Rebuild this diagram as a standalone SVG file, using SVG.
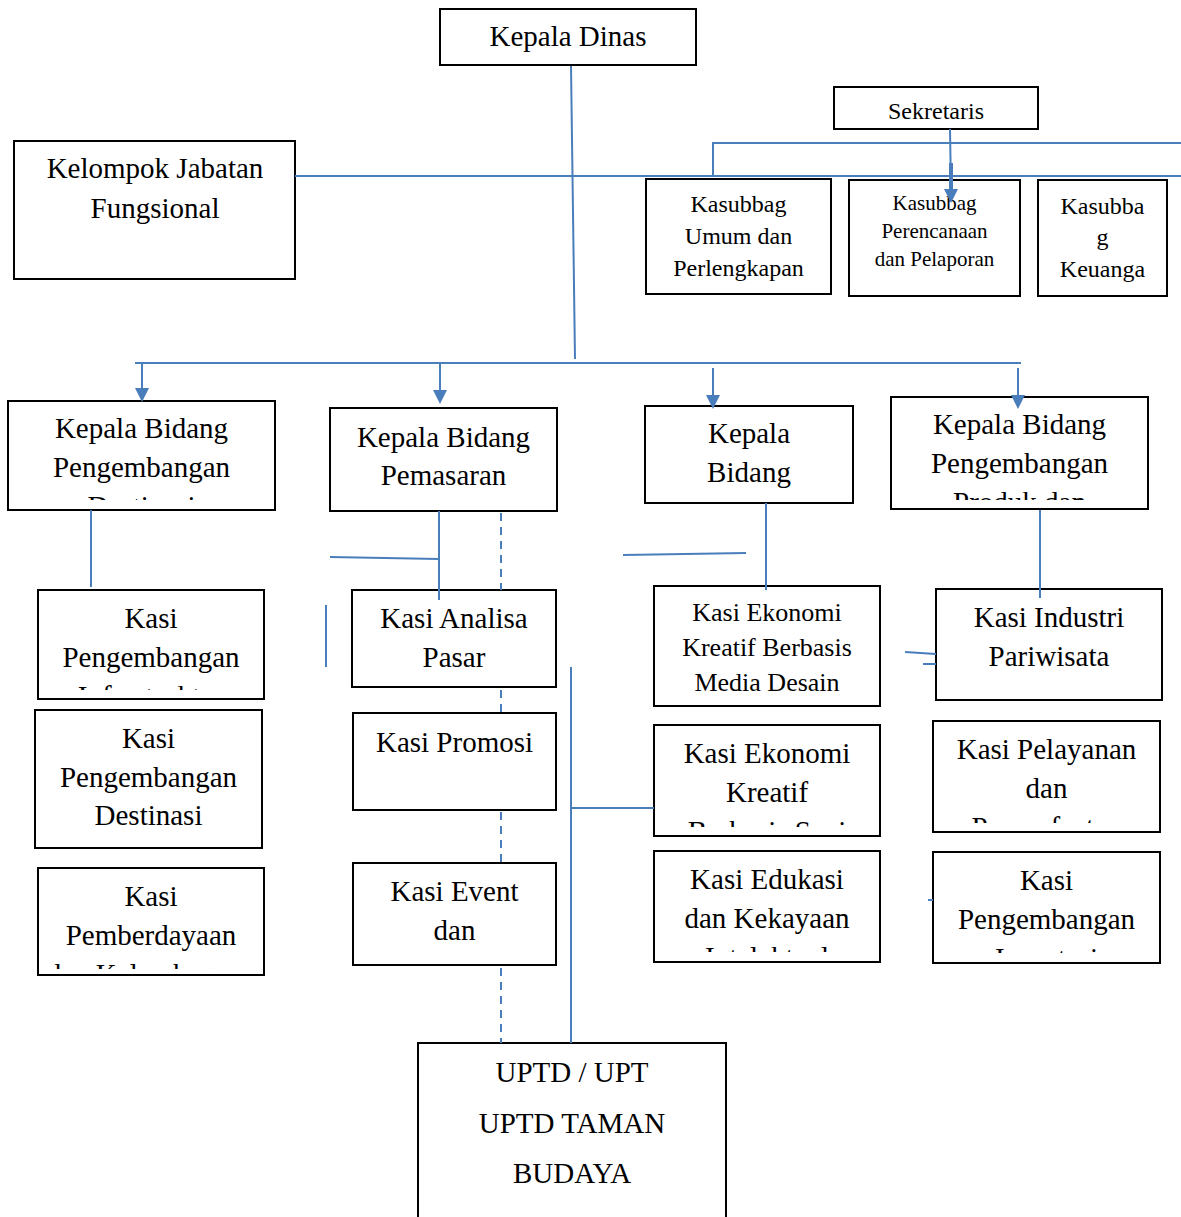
<svg xmlns="http://www.w3.org/2000/svg" width="1181" height="1217" viewBox="0 0 1181 1217">
<style>
.box{fill:#fff;stroke:#000;stroke-width:2}
.t{font-family:'Liberation Serif',serif;font-size:29px;fill:#000;text-anchor:middle}
.s24{font-size:24px}
.s21{font-size:21px}
.s26{font-size:26px}
.c{stroke:#4a7ebb;stroke-width:2;fill:none}
.d{stroke:#4a7ebb;stroke-width:2;fill:none;stroke-dasharray:8 6}
.ah{fill:#4a7ebb}
</style>
<defs>
<clipPath id="cp1"><rect x="10" y="403" width="263" height="97"/></clipPath>
<clipPath id="cp2"><rect x="893" y="399" width="253" height="101"/></clipPath>
<clipPath id="cp3"><rect x="40" y="592" width="222" height="98"/></clipPath>
<clipPath id="cp4"><rect x="40" y="870" width="222" height="99"/></clipPath>
<clipPath id="cp5"><rect x="656" y="727" width="222" height="100"/></clipPath>
<clipPath id="cp6"><rect x="656" y="853" width="222" height="99"/></clipPath>
<clipPath id="cp7"><rect x="935" y="723" width="223" height="100"/></clipPath>
<clipPath id="cp8"><rect x="935" y="854" width="223" height="99"/></clipPath>
</defs>

<g id="kepala-dinas">
<rect class="box" x="440" y="9" width="256" height="56"/>
<text class="t" x="568" y="46">Kepala Dinas</text>
</g>

<g id="sekretaris">
<rect class="box" x="834" y="87" width="204" height="42"/>
<text class="t s24" x="936" y="119">Sekretaris</text>
</g>

<g id="kelompok-jabatan-fungsional">
<rect class="box" x="14" y="141" width="281" height="138"/>
<text class="t" x="155" y="178">Kelompok Jabatan</text>
<text class="t" x="155" y="218">Fungsional</text>
</g>

<g id="kasubbag-umum">
<rect class="box" x="646" y="179" width="185" height="115"/>
<text class="t s24" x="738.5" y="212">Kasubbag</text>
<text class="t s24" x="738.5" y="244">Umum dan</text>
<text class="t s24" x="738.5" y="276">Perlengkapan</text>
</g>

<g id="kasubbag-perencanaan">
<rect class="box" x="849" y="180" width="171" height="116"/>
<text class="t s21" x="934.5" y="210">Kasubbag</text>
<text class="t s21" x="934.5" y="238">Perencanaan</text>
<text class="t s21" x="934.5" y="266">dan Pelaporan</text>
</g>

<g id="kasubbag-keuangan">
<rect class="box" x="1038" y="180" width="129" height="116"/>
<text class="t s24" x="1102.5" y="214">Kasubba</text>
<text class="t s24" x="1102.5" y="245">g</text>
<text class="t s24" x="1102.5" y="277">Keuanga</text>
</g>

<g id="kabid-destinasi">
<rect class="box" x="8" y="401" width="267" height="109"/>
<g clip-path="url(#cp1)">
<text class="t" x="141.5" y="438">Kepala Bidang</text>
<text class="t" x="141.5" y="477">Pengembangan</text>
<text class="t" x="141.5" y="516">Destinasi</text>
</g>
</g>

<g id="kabid-pemasaran">
<rect class="box" x="330" y="408" width="227" height="103"/>
<text class="t" x="443.5" y="447">Kepala Bidang</text>
<text class="t" x="443.5" y="485">Pemasaran</text>
</g>

<g id="kabid-ekraf">
<rect class="box" x="645" y="406" width="208" height="97"/>
<text class="t" x="749" y="443">Kepala</text>
<text class="t" x="749" y="482">Bidang</text>
</g>

<g id="kabid-produk">
<rect class="box" x="891" y="397" width="257" height="112"/>
<g clip-path="url(#cp2)">
<text class="t" x="1019.5" y="434">Kepala Bidang</text>
<text class="t" x="1019.5" y="473">Pengembangan</text>
<text class="t" x="1019.5" y="512">Produk dan</text>
</g>
</g>

<g id="kasi-infrastruktur">
<rect class="box" x="38" y="590" width="226" height="109"/>
<g clip-path="url(#cp3)">
<text class="t" x="151" y="628">Kasi</text>
<text class="t" x="151" y="667">Pengembangan</text>
<text class="t" x="151" y="706">Infrastruktur</text>
</g>
</g>

<g id="kasi-destinasi">
<rect class="box" x="35" y="710" width="227" height="138"/>
<text class="t" x="148.5" y="748">Kasi</text>
<text class="t" x="148.5" y="787">Pengembangan</text>
<text class="t" x="148.5" y="825">Destinasi</text>
</g>

<g id="kasi-pemberdayaan">
<rect class="box" x="38" y="868" width="226" height="107"/>
<g clip-path="url(#cp4)">
<text class="t" x="151" y="906">Kasi</text>
<text class="t" x="151" y="945">Pemberdayaan</text>
<text class="t" x="151" y="984">dan Kelembagaan</text>
</g>
</g>

<g id="kasi-analisa-pasar">
<rect class="box" x="352" y="590" width="204" height="97"/>
<text class="t" x="454" y="628">Kasi Analisa</text>
<text class="t" x="454" y="667">Pasar</text>
</g>

<g id="kasi-promosi">
<rect class="box" x="353" y="713" width="203" height="97"/>
<text class="t" x="454.5" y="752">Kasi Promosi</text>
</g>

<g id="kasi-event">
<rect class="box" x="353" y="863" width="203" height="102"/>
<text class="t" x="454.5" y="901">Kasi Event</text>
<text class="t" x="454.5" y="940">dan</text>
</g>

<g id="kasi-media-desain">
<rect class="box" x="654" y="586" width="226" height="120"/>
<text class="t s26" x="767" y="621">Kasi Ekonomi</text>
<text class="t s26" x="767" y="656">Kreatif Berbasis</text>
<text class="t s26" x="767" y="691">Media Desain</text>
</g>

<g id="kasi-seni">
<rect class="box" x="654" y="725" width="226" height="111"/>
<g clip-path="url(#cp5)">
<text class="t" x="767" y="763">Kasi Ekonomi</text>
<text class="t" x="767" y="802">Kreatif</text>
<text class="t" x="767" y="841">Berbasis Seni</text>
</g>
</g>

<g id="kasi-edukasi">
<rect class="box" x="654" y="851" width="226" height="111"/>
<g clip-path="url(#cp6)">
<text class="t" x="767" y="889">Kasi Edukasi</text>
<text class="t" x="767" y="928">dan Kekayaan</text>
<text class="t" x="767" y="967">Intelektual</text>
</g>
</g>

<g id="kasi-industri">
<rect class="box" x="936" y="589" width="226" height="111"/>
<text class="t" x="1049" y="627">Kasi Industri</text>
<text class="t" x="1049" y="666">Pariwisata</text>
</g>

<g id="kasi-pelayanan">
<rect class="box" x="933" y="721" width="227" height="111"/>
<g clip-path="url(#cp7)">
<text class="t" x="1046.5" y="759">Kasi Pelayanan</text>
<text class="t" x="1046.5" y="798">dan</text>
<text class="t" x="1046.5" y="837">Pemanfaatan</text>
</g>
</g>

<g id="kasi-investasi">
<rect class="box" x="933" y="852" width="227" height="111"/>
<g clip-path="url(#cp8)">
<text class="t" x="1046.5" y="890">Kasi</text>
<text class="t" x="1046.5" y="929">Pengembangan</text>
<text class="t" x="1046.5" y="968">Investasi</text>
</g>
</g>

<g id="uptd">
<rect class="box" x="418" y="1043" width="308" height="180"/>
<text class="t" x="572" y="1082">UPTD / UPT</text>
<text class="t" x="572" y="1133">UPTD TAMAN</text>
<text class="t" x="572" y="1183">BUDAYA</text>
</g>

<g id="connectors">
<path class="c" d="M571,66 L575,359"/>
<path class="c" d="M295,176 L1181,176"/>
<path class="c" d="M713,176 L713,143 L1181,143"/>
<path class="c" d="M950,129 L951,190"/>
<path d="M951,163 L951,190" stroke="#4a7ebb" stroke-width="4"/>
<polygon class="ah" points="944,189 958,189 951,203"/>
<path class="c" d="M135,363 L1021,363"/>
<path class="c" d="M142,363 L142,389"/>
<polygon class="ah" points="135,388 149,388 142,402"/>
<path class="c" d="M440,363 L440,391"/>
<polygon class="ah" points="433,390 447,390 440,404"/>
<path class="c" d="M713,368 L713,396"/>
<polygon class="ah" points="706,395 720,395 713,409"/>
<path class="c" d="M1018,368 L1018,396"/>
<polygon class="ah" points="1011,395 1025,395 1018,409"/>
<path class="c" d="M91,510 L91,587"/>
<path class="c" d="M439,511 L439,600"/>
<path class="c" d="M330,557 L439,559"/>
<path class="c" d="M326,605 L326,667"/>
<path class="d" d="M501,513 L501,590"/>
<path class="d" d="M501,690 L501,713"/>
<path class="d" d="M501,812 L501,863"/>
<path class="d" d="M501,968 L501,1043"/>
<path class="c" d="M766,503 L766,590"/>
<path class="c" d="M623,555 L746,553"/>
<path class="c" d="M1040,510 L1040,598"/>
<path class="c" d="M571,667 L571,1043"/>
<path class="c" d="M571,808 L654,808"/>
<path class="c" d="M905,652 L936,654"/>
<path class="c" d="M923,664 L936,664"/>
<path class="c" d="M928,900 L933,900"/>
</g>
</svg>
